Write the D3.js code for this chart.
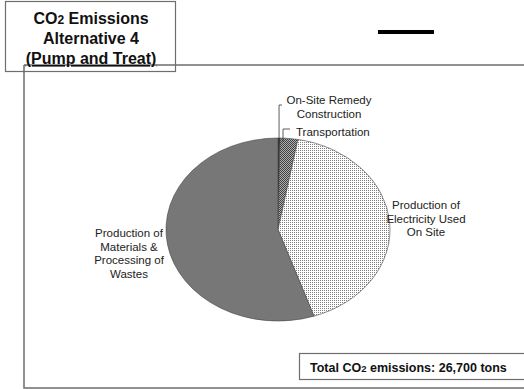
<!DOCTYPE html>
<html><head><meta charset="utf-8">
<script src="https://cdn.jsdelivr.net/npm/d3@7"></script>
<style>body{margin:0;background:#fff}svg{display:block}text{font-family:"Liberation Sans",Arial,sans-serif}</style>
</head><body>
<script>
const categories = ["On-Site Remedy Construction", "Transportation", "Production of Electricity Used On Site", "Production of Materials & Processing of Wastes"];
const values = [80, 680, 11200, 14740];
const totalLabel = "26,700 tons";
const titleLines = ["Emissions", "Alternative 4", "(Pump and Treat)"];

const W = 524, H = 389;
const svg = d3.select("body").append("svg").attr("width", W).attr("height", H);
const defs = svg.append("defs");
const p1 = defs.append("pattern").attr("id","elec").attr("patternUnits","userSpaceOnUse").attr("width",2).attr("height",2);
p1.append("rect").attr("width",2).attr("height",2).attr("fill","#fff");
p1.append("rect").attr("width",1).attr("height",1).attr("fill","#808080");
const p2 = defs.append("pattern").attr("id","trans").attr("patternUnits","userSpaceOnUse").attr("width",2).attr("height",2);
p2.append("rect").attr("width",2).attr("height",2).attr("fill","#b0b0b0");
p2.append("rect").attr("width",1).attr("height",1).attr("fill","#404040");
p2.append("rect").attr("x",1).attr("y",1).attr("width",1).attr("height",1).attr("fill","#404040");
const fills = ["#333", "url(#trans)", "url(#elec)", "#777"];

// frame
const frameCol = "#6e6e6e";
svg.append("path").attr("d", "M24,65H524M24,65V388H524").attr("fill","none").attr("stroke",frameCol).attr("stroke-width",1.5);

// title box
svg.append("rect").attr("x",5.5).attr("y",1.5).attr("width",170).attr("height",70).attr("fill","none").attr("stroke",frameCol).attr("stroke-width",1.2);
const tt = svg.append("text").attr("text-anchor","middle").attr("font-weight","bold").attr("font-size",16).attr("fill","#111");
const l0 = tt.append("tspan").attr("x",91).attr("y",24);
l0.append("tspan").text("CO");
l0.append("tspan").attr("font-size",12).text("2");
l0.append("tspan").text(" " + titleLines[0]);
tt.append("tspan").attr("x",91).attr("y",44).text(titleLines[1]);
tt.append("tspan").attr("x",91).attr("y",64).attr("text-decoration","underline").text(titleLines[2]);

// black dash
svg.append("line").attr("x1",378).attr("x2",434).attr("y1",32).attr("y2",32).attr("stroke","#000").attr("stroke-width",4);

// pie (elliptical)
const cx = 278, cy = 229.5, rx = 112, ry = 91.5;
const pie = d3.pie().sort(null).value(d => d)(values);
const pt = a => [cx + rx*Math.sin(a), cy - ry*Math.cos(a)];
const g = svg.append("g");
g.selectAll("path").data(pie).join("path")
  .attr("d", d => {
    const a = pt(d.startAngle), b = pt(d.endAngle);
    const large = (d.endAngle - d.startAngle) > Math.PI ? 1 : 0;
    return `M${cx},${cy}L${a[0]},${a[1]}A${rx},${ry} 0 ${large} 1 ${b[0]},${b[1]}Z`;
  })
  .attr("fill", (d,i) => fills[i])
  .attr("stroke", "#444").attr("stroke-width", 0.6).attr("stroke-linejoin","round");

// labels
const lab = svg.append("g").attr("font-size",11.5).attr("fill","#222").attr("text-anchor","middle");
function block(x, y, lines, dy){
  const t = lab.append("text");
  lines.forEach((s,i)=>t.append("tspan").attr("x",x).attr("y",y+i*dy).text(s));
}
block(329, 104, ["On-Site Remedy", "Construction"], 13.5);
lab.append("text").attr("x",296).attr("y",136).attr("text-anchor","start").text(categories[1]);
block(426, 209, ["Production of", "Electricity Used", "On Site"], 13.5);
block(129, 237, ["Production of", "Materials &", "Processing of", "Wastes"], 13.5);

// leader lines
const m0 = pt((pie[0].startAngle + pie[0].endAngle)/2);
const m1 = pt((pie[1].startAngle + pie[1].endAngle)/2);
svg.append("path").attr("d", `M${m0[0]},${m0[1]+1}V105H282`).attr("fill","none").attr("stroke","#333").attr("stroke-width",0.8);
svg.append("path").attr("d", `M283,${m1[1]+3}V129H290`).attr("fill","none").attr("stroke","#333").attr("stroke-width",0.8);

// total box
svg.append("rect").attr("x",299.5).attr("y",353.5).attr("width",230).attr("height",26).attr("fill","#fff").attr("stroke",frameCol).attr("stroke-width",1.2);
const tot = svg.append("text").attr("x",310).attr("y",372).attr("font-size",12.5).attr("font-weight","bold").attr("fill","#111");
tot.append("tspan").text("Total CO");
tot.append("tspan").attr("font-size",9.5).text("2");
tot.append("tspan").text(" emissions: " + totalLabel);
</script>
</body></html>
